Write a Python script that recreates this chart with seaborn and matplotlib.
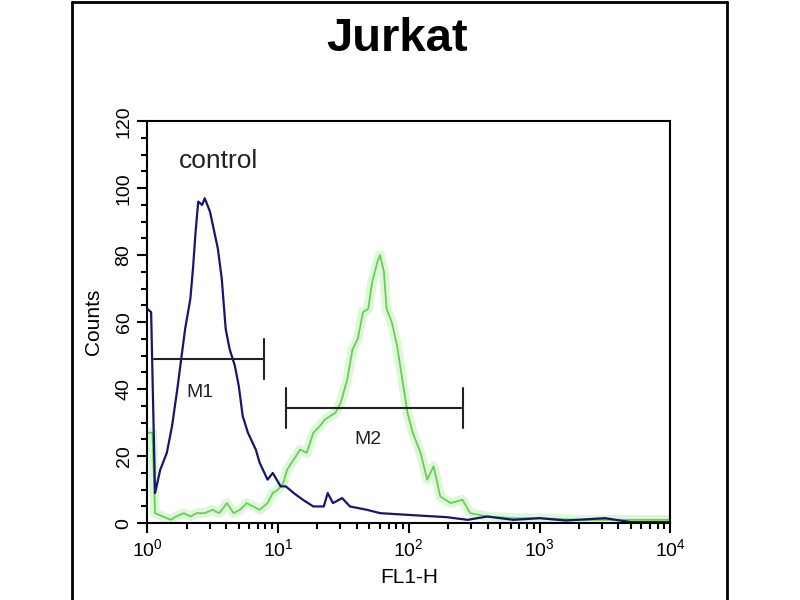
import numpy as np
import pandas as pd
import matplotlib
matplotlib.use("Agg")
import matplotlib.pyplot as plt
from matplotlib.lines import Line2D
from matplotlib.ticker import LogLocator, MultipleLocator, LogFormatterMathtext
import seaborn as sns

# histogramme: log10(FL1-H) et nombre d'evenements
control_log = [0.00, 0.03, 0.06, 0.10, 0.15, 0.19, 0.23, 0.25, 0.29, 0.33, 0.35, 0.37,
               0.39, 0.42, 0.44, 0.48, 0.54, 0.57, 0.60, 0.63, 0.67, 0.70, 0.73, 0.77,
               0.83, 0.86, 0.92, 0.96, 1.02, 1.06, 1.12, 1.19, 1.27, 1.35, 1.38, 1.42,
               1.49, 1.55, 1.68, 1.78, 2.03, 2.29, 2.45, 2.60, 2.80, 3.00, 3.20, 3.50,
               3.70, 4.00]
control_counts = [64, 63, 9, 16, 21, 29, 40, 46, 58, 67, 76, 87,
                  96, 95, 97, 93, 82, 73, 58, 52, 47, 41, 32, 27,
                  22, 18, 13, 15, 11, 11, 9, 7, 5, 5, 9, 6,
                  7.5, 5, 4, 3, 2.4, 1.8, 1, 2, 1, 1.5, 0.8, 1.5,
                  0.3, 0.3]

sample_log = [0.00, 0.04, 0.06, 0.12, 0.18, 0.22, 0.28, 0.33, 0.38, 0.44, 0.50, 0.55,
              0.61, 0.66, 0.71, 0.76, 0.81, 0.86, 0.92, 0.96, 1.00, 1.04, 1.07, 1.12,
              1.17, 1.22, 1.27, 1.32, 1.36, 1.40, 1.44, 1.48, 1.53, 1.57, 1.61, 1.65,
              1.69, 1.72, 1.76, 1.78, 1.81, 1.83, 1.87, 1.91, 1.95, 1.99, 2.03, 2.09,
              2.14, 2.19, 2.24, 2.32, 2.41, 2.47, 2.60, 2.80, 3.00, 3.30, 3.60, 4.00]
sample_counts = [27, 27, 3, 2, 1, 2, 3, 2, 3, 3, 4, 3,
                 6, 3, 4, 6, 5, 4, 6, 9, 10, 12, 16, 19,
                 22, 21, 27, 29, 31, 32, 33, 36, 43, 52, 55, 63,
                 64, 72, 78, 80, 75, 64, 60, 53, 43, 33, 27, 21,
                 13, 17, 8, 6, 7, 3, 2, 1.5, 1.5, 1, 1, 1]

# marqueurs M1 / M2
gate_names = ["M1", "M2"]
gate_lo = [1.13, 11.5]
gate_hi = [7.8, 260]
gate_y = [49, 34.5]
gate_label_x = [2.55, 49]
gate_label_y = [39, 25]

df_c = pd.DataFrame({"fl": np.power(10.0, control_log), "counts": control_counts})
df_s = pd.DataFrame({"fl": np.power(10.0, sample_log), "counts": sample_counts})

sns.set_style("white")
plt.rcParams["font.family"] = ["Liberation Sans", "DejaVu Sans"]
plt.rcParams["text.color"] = "black"
plt.rcParams["axes.labelcolor"] = "black"
plt.rcParams["xtick.color"] = "black"
plt.rcParams["ytick.color"] = "black"

fig = plt.figure(figsize=(8, 6), dpi=100)
ax = fig.add_axes([0.184, 0.128, 0.654, 0.67])

# halo vert puis trait fin
sns.lineplot(data=df_s, x="fl", y="counts", ax=ax, estimator=None, sort=False,
             color="#c4f2bb", lw=7, alpha=0.55)
sns.lineplot(data=df_s, x="fl", y="counts", ax=ax, estimator=None, sort=False,
             color="#66cf55", lw=1.3)
sns.lineplot(data=df_c, x="fl", y="counts", ax=ax, estimator=None, sort=False,
             color="#16166e", lw=1.6)

for name, lo, hi, yv, lx, ly in zip(gate_names, gate_lo, gate_hi, gate_y, gate_label_x, gate_label_y):
    ax.plot([lo, hi], [yv, yv], color="#222222", lw=1.5)
    ax.plot([hi, hi], [yv - 6, yv + 6], color="#222222", lw=1.5)
    if name == "M2":
        ax.plot([lo, lo], [yv - 6, yv + 6], color="#222222", lw=1.5)
    ax.text(lx, ly, name, ha="center", va="center", fontsize=14, color="#222222")

ax.text(3.5, 108, "control", ha="center", va="center", fontsize=19, color="#222222")

ax.set_xscale("log")
ax.set_xlim(1, 1e4)
ax.set_ylim(0, 120)
ax.xaxis.set_major_locator(LogLocator(base=10))
ax.xaxis.set_minor_locator(LogLocator(base=10, subs=np.arange(2, 10)))
ax.xaxis.set_major_formatter(LogFormatterMathtext())
ax.yaxis.set_major_locator(MultipleLocator(20))
ax.yaxis.set_minor_locator(MultipleLocator(5))

ax.tick_params(which="both", direction="out", color="black", width=1.5,
               bottom=True, left=True, labelsize=14)
ax.tick_params(which="major", length=7)
ax.tick_params(which="minor", length=4)
for lab in ax.get_yticklabels():
    lab.set_rotation(90)
    lab.set_va("center")

for sp in ax.spines.values():
    sp.set_color("black")
    sp.set_linewidth(1.5)

ax.set_xlabel("FL1-H", fontsize=15, labelpad=6)
ax.set_ylabel("Counts", fontsize=15, labelpad=9)

fig.text(0.496, 0.935, "Jurkat", ha="center", va="center", fontsize=34, weight="bold", color="black")

# cadre exterieur
fig.add_artist(Line2D([0.09, 0.09], [0, 0.997], color="black", lw=2, transform=fig.transFigure))
fig.add_artist(Line2D([0.909, 0.909], [0, 0.997], color="black", lw=2, transform=fig.transFigure))
fig.add_artist(Line2D([0.09, 0.909], [0.997, 0.997], color="black", lw=2, transform=fig.transFigure))

fig.savefig("out.png", dpi=100, facecolor="white")
